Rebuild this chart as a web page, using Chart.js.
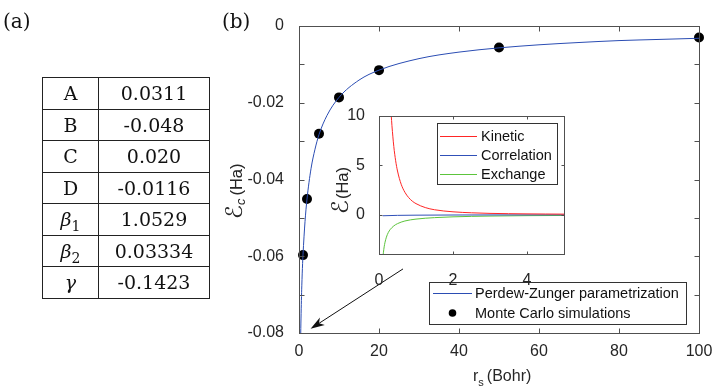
<!DOCTYPE html>
<html>
<head>
<meta charset="utf-8">
<script src="https://cdn.jsdelivr.net/npm/chart.js@4.4.0/dist/chart.umd.min.js"></script>
<style>
    body { margin: 0; background: #fff; }
    #wrap { position: relative; width: 714px; height: 386px; overflow: hidden; }
    canvas { position: absolute; left: 0; top: 0; }
    .panel { position: absolute; font: 20px "DejaVu Serif", serif; color: #111; }
    #params { position: absolute; left: 42px; top: 77px; border-collapse: collapse;
              font: 19px "DejaVu Serif", serif; color: #111; line-height: 20px; }
    #params td { border: 1px solid #222; padding: 0; height: 30.5px; text-align: center; }
    #params td:first-child { width: 55px; }
    #params td:last-child { width: 110px; }
    #params sub { font-size: 14px; font-style: normal; line-height: 0; }
</style>
</head>
<body>
<div id="wrap">
    <canvas id="mainChart" width="714" height="386"></canvas>
    <canvas id="insetChart" width="714" height="386"></canvas>
    <div class="panel" style="left:3px; top:9px;">(a)</div>
    <div class="panel" style="left:222px; top:9px;">(b)</div>
    <table id="params"></table>
</div>
<script>
// table (a)
var paramNames = ['A', 'B', 'C', 'D', '<i>β</i><sub>1</sub>', '<i>β</i><sub>2</sub>', '<i>γ</i>'];
var paramValues = ['0.0311', '-0.048', '0.020', '-0.0116', '1.0529', '0.03334', '-0.1423'];

// main panel (b): correlation energy vs r_s
var pzRs = [0.43, 0.45, 0.5, 0.6, 0.7, 0.8, 0.9, 1, 1.5, 2, 3, 4, 5, 7, 10, 15, 20, 30, 40, 50, 60, 70, 80, 90, 100];
var pzEc = [-0.0800, -0.0788, -0.0761, -0.0715, -0.0677, -0.0646, -0.0619, -0.0596, -0.0510, -0.0451,
            -0.0372, -0.0321, -0.0283, -0.0233, -0.0186, -0.0141, -0.0115, -0.0085, -0.0068, -0.0057,
            -0.0049, -0.0043, -0.0038, -0.0035, -0.0032];
var mcRs = [1, 2, 5, 10, 20, 50, 100];
var mcEc = [-0.0597, -0.0451, -0.0281, -0.0186, -0.0115, -0.0056, -0.0030];
var mainXTicks = [0, 20, 40, 60, 80, 100];
var mainYTicks = [0, -0.02, -0.04, -0.06, -0.08];
var mainYMarks = [0, -0.01, -0.02, -0.03, -0.04, -0.05, -0.06, -0.07, -0.08];
var arrowFrom = [26, -0.0633];
var arrowTo = [2.9, -0.0789];

// inset: kinetic, correlation, exchange
var kinRs = [0.33, 0.35, 0.4, 0.45, 0.5, 0.6, 0.7, 0.8, 0.9, 1, 1.25, 1.5, 2, 2.5, 3, 3.5, 4, 4.5, 5];
var kinE = [10.1, 9.02, 6.91, 5.46, 4.42, 3.07, 2.26, 1.73, 1.36, 1.11, 0.71, 0.49, 0.28, 0.18, 0.12, 0.09, 0.07, 0.055, 0.044];
var corRs = [0.1, 0.5, 1, 2, 3, 5];
var corE = [-0.12, -0.08, -0.06, -0.045, -0.037, -0.028];
var excRs = [0.11, 0.12, 0.14, 0.16, 0.2, 0.25, 0.3, 0.4, 0.5, 0.7, 1, 1.5, 2, 3, 4, 5];
var excE = [-4.17, -3.82, -3.27, -2.86, -2.29, -1.83, -1.53, -1.15, -0.92, -0.65, -0.46, -0.31, -0.23, -0.15, -0.11, -0.09];
var insetXTicks = [0, 2, 4];
var insetYTicks = [0, 5, 10];

var tb = document.getElementById('params');
for (var i = 0; i < paramNames.length; i++) {
    var tr = tb.insertRow();
    tr.insertCell().innerHTML = paramNames[i];
    tr.insertCell().innerHTML = paramValues[i];
}

var SANS = '"Liberation Sans", Arial, sans-serif';
var AXIS = '#505050';
var TXT = '#262626';

function pts(xs, ys) {
    return xs.map(function (x, i) { return { x: x, y: ys[i] }; });
}

function px(v) { return Math.round(v) + 0.5; }

function drawFrame(chart, xMarks, yMarks, len) {
    var ctx = chart.ctx, a = chart.chartArea, sx = chart.scales.x, sy = chart.scales.y;
    var l = px(a.left), r = px(a.right), t = px(a.top), b = px(a.bottom);
    ctx.save();
    ctx.strokeStyle = AXIS;
    ctx.lineWidth = 1;
    ctx.strokeRect(l, t, r - l, b - t);
    ctx.beginPath();
    xMarks.forEach(function (v) {
        var x = px(sx.getPixelForValue(v));
        ctx.moveTo(x, b); ctx.lineTo(x, b - len);
        ctx.moveTo(x, t); ctx.lineTo(x, t + len);
    });
    yMarks.forEach(function (v) {
        var y = px(sy.getPixelForValue(v));
        ctx.moveTo(l, y); ctx.lineTo(l + len, y);
        ctx.moveTo(r, y); ctx.lineTo(r - len, y);
    });
    ctx.stroke();
    ctx.restore();
}

// text pieces drawn one after another, optionally rotated
function drawParts(ctx, x, y, rot, parts) {
    ctx.save();
    ctx.translate(x, y);
    if (rot) ctx.rotate(-Math.PI / 2);
    ctx.fillStyle = TXT;
    ctx.textBaseline = 'alphabetic';
    ctx.textAlign = 'left';
    var cx = 0;
    parts.forEach(function (p) {
        ctx.font = p.font;
        ctx.fillText(p.text, cx, p.dy || 0);
        cx += ctx.measureText(p.text).width + (p.gap || 0);
    });
    ctx.restore();
}

function drawLegend(ctx, box, rows, lineX, textX) {
    ctx.save();
    ctx.fillStyle = '#fff';
    ctx.fillRect(box[0], box[1], box[2], box[3]);
    ctx.strokeStyle = '#333';
    ctx.lineWidth = 1;
    ctx.strokeRect(px(box[0]), px(box[1]), box[2], box[3]);
    ctx.font = '14.5px ' + SANS;
    ctx.textBaseline = 'middle';
    rows.forEach(function (r) {
        if (r.dot) {
            ctx.fillStyle = r.color;
            ctx.beginPath();
            ctx.arc((lineX[0] + lineX[1]) / 2, r.y, 3.8, 0, Math.PI * 2);
            ctx.fill();
        } else {
            ctx.strokeStyle = r.color;
            ctx.beginPath();
            ctx.moveTo(lineX[0], r.y + 0.5);
            ctx.lineTo(lineX[1], r.y + 0.5);
            ctx.stroke();
        }
        ctx.fillStyle = '#111';
        ctx.fillText(r.label, textX, r.y + 1);
    });
    ctx.restore();
}

var mainDecor = {
    id: 'mainDecor',
    afterDraw: function (chart) {
        var ctx = chart.ctx, sx = chart.scales.x, sy = chart.scales.y;
        drawFrame(chart, mainXTicks, mainYMarks, 5);

        // arrow pointing to the origin
        var x0 = sx.getPixelForValue(arrowFrom[0]), y0 = sy.getPixelForValue(arrowFrom[1]);
        var x1 = sx.getPixelForValue(arrowTo[0]), y1 = sy.getPixelForValue(arrowTo[1]);
        var ang = Math.atan2(y1 - y0, x1 - x0);
        ctx.save();
        ctx.strokeStyle = '#111';
        ctx.fillStyle = '#111';
        ctx.lineWidth = 1;
        ctx.beginPath();
        ctx.moveTo(x0, y0);
        ctx.lineTo(x1 - 8 * Math.cos(ang), y1 - 8 * Math.sin(ang));
        ctx.stroke();
        ctx.beginPath();
        ctx.moveTo(x1, y1);
        ctx.lineTo(x1 - 14 * Math.cos(ang) + 4.5 * Math.sin(ang), y1 - 14 * Math.sin(ang) - 4.5 * Math.cos(ang));
        ctx.lineTo(x1 - 10 * Math.cos(ang), y1 - 10 * Math.sin(ang));
        ctx.lineTo(x1 - 14 * Math.cos(ang) - 4.5 * Math.sin(ang), y1 - 14 * Math.sin(ang) + 4.5 * Math.cos(ang));
        ctx.closePath();
        ctx.fill();
        ctx.restore();

        // axis titles
        drawParts(ctx, 473, 381, false, [
            { text: 'r', font: '16px ' + SANS },
            { text: 's', font: '11px ' + SANS, dy: 5, gap: 3 },
            { text: '(Bohr)', font: '16px ' + SANS }
        ]);
        drawParts(ctx, 242, 219, true, [
            { text: 'ℰ', font: '23px "DejaVu Sans", serif', gap: 0 },
            { text: 'c', font: 'italic 13px ' + SANS, dy: 3, gap: 3 },
            { text: '(Ha)', font: '16.5px ' + SANS }
        ]);

        var ds = chart.data.datasets;
        drawLegend(ctx, [429, 282, 257, 42], [
            { label: ds[0].label, color: ds[0].borderColor, y: 293 },
            { label: ds[1].label, color: ds[1].backgroundColor, y: 313, dot: true }
        ], [433, 472], 475);
    }
};

new Chart(document.getElementById('mainChart'), {
    type: 'scatter',
    data: {
        datasets: [{
            label: 'Perdew-Zunger parametrization',
            data: pts(pzRs, pzEc),
            showLine: true,
            borderColor: '#2b4db3',
            borderWidth: 1,
            pointRadius: 0,
            cubicInterpolationMode: 'monotone'
        }, {
            label: 'Monte Carlo simulations',
            data: pts(mcRs, mcEc),
            backgroundColor: '#000',
            borderColor: '#000',
            pointRadius: 5,
            pointBorderWidth: 0,
            clip: false
        }]
    },
    options: {
        responsive: false,
        animation: false,
        devicePixelRatio: 1,
        layout: { padding: { left: 220, right: 15, top: 26, bottom: 0 } },
        plugins: { legend: { display: false }, tooltip: { enabled: false } },
        scales: {
            x: {
                type: 'linear', min: 0, max: 100,
                afterBuildTicks: function (s) { s.ticks = mainXTicks.map(function (v) { return { value: v }; }); },
                afterFit: function (s) { s.height = 53; },
                grid: { display: false },
                border: { display: false },
                ticks: { autoSkip: false, maxRotation: 0, padding: 1, color: TXT, font: { family: SANS, size: 16 } }
            },
            y: {
                type: 'linear', min: -0.08, max: 0,
                afterBuildTicks: function (s) { s.ticks = mainYTicks.map(function (v) { return { value: v }; }); },
                afterFit: function (s) { s.width = 79; },
                grid: { display: false },
                border: { display: false },
                ticks: {
                    autoSkip: false, padding: 7, color: TXT, font: { family: SANS, size: 16 },
                    callback: function (v) { return v === 0 ? '0' : v.toFixed(2); }
                }
            }
        }
    },
    plugins: [mainDecor]
});

var insetDecor = {
    id: 'insetDecor',
    beforeDraw: function (chart) {
        var a = chart.chartArea, ctx = chart.ctx;
        ctx.save();
        ctx.fillStyle = '#fff';
        ctx.fillRect(a.left, a.top, a.right - a.left, a.bottom - a.top);
        ctx.restore();
    },
    afterDraw: function (chart) {
        var ctx = chart.ctx;
        drawFrame(chart, insetXTicks, insetYTicks, 3);
        drawParts(ctx, 348, 214, true, [
            { text: 'ℰ', font: '23px "DejaVu Sans", serif', gap: 1 },
            { text: '(Ha)', font: '16.5px ' + SANS }
        ]);
        var ds = chart.data.datasets;
        drawLegend(ctx, [437, 123, 120, 61], ds.map(function (d, i) {
            return { label: d.label, color: d.borderColor, y: 136 + i * 19 };
        }), [440, 477], 481);
    }
};

new Chart(document.getElementById('insetChart'), {
    type: 'scatter',
    data: {
        datasets: [{
            label: 'Kinetic', data: pts(kinRs, kinE), borderColor: '#ff2626'
        }, {
            label: 'Correlation', data: pts(corRs, corE), borderColor: '#3050b8'
        }, {
            label: 'Exchange', data: pts(excRs, excE), borderColor: '#5cc43c'
        }].map(function (d) {
            d.showLine = true; d.borderWidth = 1; d.pointRadius = 0; d.cubicInterpolationMode = 'monotone';
            return d;
        })
    },
    options: {
        responsive: false,
        animation: false,
        devicePixelRatio: 1,
        layout: { padding: { left: 330, right: 150, top: 116, bottom: 0 } },
        plugins: { legend: { display: false }, tooltip: { enabled: false } },
        scales: {
            x: {
                type: 'linear', min: 0, max: 5,
                afterBuildTicks: function (s) { s.ticks = insetXTicks.map(function (v) { return { value: v }; }); },
                afterFit: function (s) { s.height = 132; },
                grid: { display: false },
                border: { display: false },
                ticks: { autoSkip: false, maxRotation: 0, padding: 9, color: TXT, font: { family: SANS, size: 16 } }
            },
            y: {
                type: 'linear', min: -4, max: 10,
                afterBuildTicks: function (s) { s.ticks = insetYTicks.map(function (v) { return { value: v }; }); },
                afterFit: function (s) { s.width = 49; },
                grid: { display: false },
                border: { display: false },
                ticks: { autoSkip: false, padding: 6, color: TXT, font: { family: SANS, size: 16 } }
            }
        }
    },
    plugins: [insetDecor]
});
</script>
</body>
</html>
